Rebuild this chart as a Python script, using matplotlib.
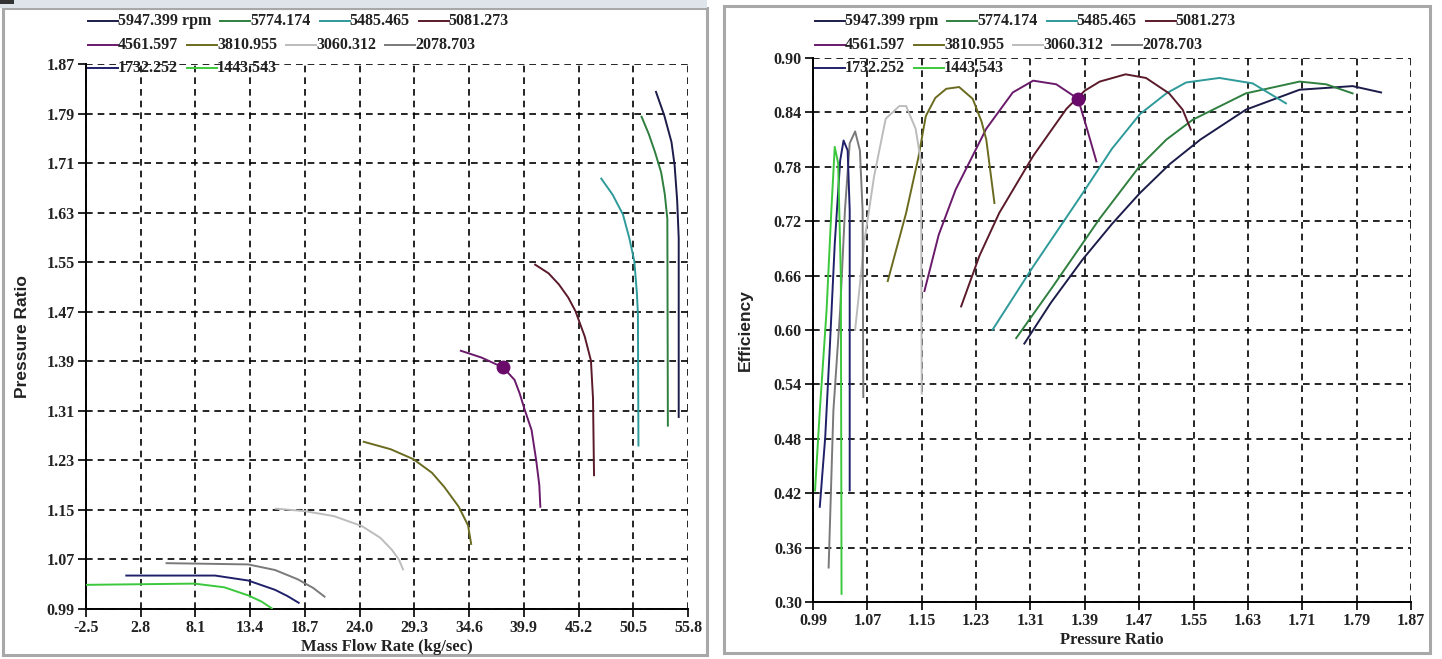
import matplotlib
matplotlib.use("Agg")
import matplotlib.pyplot as plt
from matplotlib.lines import Line2D
from matplotlib.patches import Rectangle

# ---------------- data ----------------
speeds = ["5947.399 rpm", "5774.174", "5485.465", "5081.273",
          "4561.597", "3810.955", "3060.312", "2078.703",
          "1732.252", "1443.543"]

flow_ticks = [-2.5, 2.8, 8.1, 13.4, 18.7, 24.0, 29.3, 34.6, 39.9, 45.2, 50.5, 55.8]
pr_ticks = [0.99, 1.07, 1.15, 1.23, 1.31, 1.39, 1.47, 1.55, 1.63, 1.71, 1.79, 1.87]
eff_ticks = [0.30, 0.36, 0.42, 0.48, 0.54, 0.60, 0.66, 0.72, 0.78, 0.84, 0.90]

# speed lines: mass flow (kg/s) vs pressure ratio
flow_5947 = [52.7, 53.5, 54.2, 54.5, 54.75, 54.9, 54.9]
pr_5947 = [1.825, 1.787, 1.744, 1.707, 1.650, 1.589, 1.300]
flow_5774 = [51.3, 52.0, 52.6, 53.2, 53.55, 53.8, 53.85]
pr_5774 = [1.785, 1.757, 1.728, 1.695, 1.660, 1.620, 1.286]
flow_5485 = [47.4, 48.5, 49.5, 50.1, 50.6, 50.85, 50.95, 51.0]
pr_5485 = [1.685, 1.659, 1.627, 1.590, 1.552, 1.500, 1.466, 1.254]
flow_5081 = [41.0, 42.3, 43.3, 44.2, 44.9, 45.8, 46.4, 46.6, 46.7]
pr_5081 = [1.546, 1.532, 1.514, 1.493, 1.471, 1.430, 1.391, 1.330, 1.206]
flow_4561 = [33.8, 35.8, 37.9, 39.0, 39.5, 40.0, 40.65, 41.1, 41.4, 41.5]
pr_4561 = [1.407, 1.396, 1.380, 1.360, 1.338, 1.311, 1.279, 1.230, 1.190, 1.155]
flow_3810 = [24.4, 27.0, 29.2, 31.0, 32.2, 33.6, 34.5, 34.8]
pr_3810 = [1.260, 1.248, 1.232, 1.210, 1.187, 1.155, 1.125, 1.095]
flow_3060 = [15.9, 18.7, 21.5, 24.2, 26.0, 27.1, 27.8, 28.2]
pr_3060 = [1.152, 1.148, 1.140, 1.124, 1.105, 1.086, 1.070, 1.054]
flow_2078 = [5.3, 13.2, 15.8, 18.0, 19.5, 20.6]
pr_2078 = [1.064, 1.062, 1.053, 1.038, 1.024, 1.010]
flow_1732 = [1.4, 10.0, 13.2, 15.8, 17.0, 18.1]
pr_1732 = [1.044, 1.044, 1.036, 1.021, 1.011, 1.000]
flow_1443 = [-2.5, 8.0, 10.9, 13.2, 14.5, 15.5]
pr_1443 = [1.029, 1.031, 1.025, 1.012, 1.002, 0.991]

# speed lines: pressure ratio vs efficiency
epr_5947 = [1.301, 1.340, 1.387, 1.430, 1.471, 1.515, 1.560, 1.627, 1.706, 1.784, 1.826]
eff_5947 = [0.585, 0.630, 0.678, 0.717, 0.751, 0.783, 0.810, 0.843, 0.865, 0.869, 0.862]
epr_5774 = [1.289, 1.343, 1.412, 1.470, 1.510, 1.549, 1.627, 1.706, 1.745, 1.784]
eff_5774 = [0.591, 0.648, 0.723, 0.780, 0.810, 0.832, 0.861, 0.874, 0.871, 0.861]
epr_5485 = [1.254, 1.314, 1.387, 1.430, 1.471, 1.510, 1.539, 1.588, 1.637, 1.686]
eff_5485 = [0.600, 0.670, 0.751, 0.800, 0.838, 0.861, 0.873, 0.878, 0.872, 0.850]
epr_5081 = [1.208, 1.235, 1.264, 1.314, 1.363, 1.390, 1.412, 1.450, 1.480, 1.514, 1.534, 1.546]
eff_5081 = [0.626, 0.682, 0.729, 0.792, 0.844, 0.864, 0.874, 0.882, 0.878, 0.861, 0.843, 0.821]
epr_4561 = [1.154, 1.175, 1.200, 1.245, 1.284, 1.314, 1.348, 1.380, 1.392, 1.407]
eff_4561 = [0.643, 0.705, 0.755, 0.822, 0.862, 0.875, 0.871, 0.855, 0.825, 0.786]
epr_3810 = [1.100, 1.127, 1.145, 1.156, 1.170, 1.186, 1.205, 1.225, 1.238, 1.245, 1.257]
eff_3810 = [0.654, 0.729, 0.790, 0.836, 0.856, 0.866, 0.868, 0.855, 0.830, 0.810, 0.740]
epr_3060 = [1.052, 1.066, 1.080, 1.097, 1.117, 1.127, 1.141, 1.149, 1.150]
eff_3060 = [0.600, 0.700, 0.770, 0.833, 0.847, 0.847, 0.822, 0.785, 0.530]
epr_2078 = [1.013, 1.020, 1.030, 1.037, 1.044, 1.052, 1.059, 1.063, 1.064]
eff_2078 = [0.338, 0.511, 0.622, 0.732, 0.806, 0.819, 0.798, 0.732, 0.526]
epr_1732 = [1.000, 1.008, 1.015, 1.022, 1.030, 1.035, 1.041, 1.044, 1.044]
eff_1732 = [0.405, 0.482, 0.585, 0.695, 0.787, 0.809, 0.798, 0.732, 0.423]
epr_1443 = [0.993, 1.000, 1.010, 1.017, 1.022, 1.027, 1.031, 1.032]
eff_1443 = [0.423, 0.511, 0.622, 0.732, 0.802, 0.784, 0.659, 0.309]

# operating point
op_flow, op_pr, op_eff = 37.9, 1.380, 0.855

# ---------------- style ----------------
colors = ["#1c1c4a", "#2f7f3f", "#2f9a9a", "#5a1a2a", "#6a1a6a",
          "#6b6b20", "#bcbcbc", "#7a7a7a", "#20206a", "#3cc83c"]

left_series = [(flow_5947, pr_5947), (flow_5774, pr_5774), (flow_5485, pr_5485),
               (flow_5081, pr_5081), (flow_4561, pr_4561), (flow_3810, pr_3810),
               (flow_3060, pr_3060), (flow_2078, pr_2078), (flow_1732, pr_1732),
               (flow_1443, pr_1443)]
right_series = [(epr_5947, eff_5947), (epr_5774, eff_5774), (epr_5485, eff_5485),
                (epr_5081, eff_5081), (epr_4561, eff_4561), (epr_3810, eff_3810),
                (epr_3060, eff_3060), (epr_2078, eff_2078), (epr_1732, eff_1732),
                (epr_1443, eff_1443)]

W, H = 1442, 659
fig = plt.figure(figsize=(W / 100, H / 100), dpi=100)
fig.patch.set_facecolor("white")

def px(x, y):
    return x / W, 1 - y / H

# panel frames
for (x0, y0, x1, y1) in [(3, 8, 707, 655), (724, 6, 1430, 653)]:
    fx0, fy1 = px(x0, y0)
    fx1, fy0 = px(x1, y1)
    fig.patches.append(Rectangle((fx0, fy0), fx1 - fx0, fy1 - fy0,
                                 transform=fig.transFigure, facecolor="none",
                                 edgecolor="#a8a8a8", linewidth=2.2, zorder=-1))
# cropped title strip at top-left
fig.patches.append(Rectangle(px(0, 8), 707 / W, 8 / H, transform=fig.transFigure,
                             facecolor="#dfe3ea", edgecolor="none", zorder=-1))
fig.patches.append(Rectangle(px(0, 4), 14 / W, 4 / H, transform=fig.transFigure,
                             facecolor="#333333", edgecolor="none", zorder=-1))

def make_axes(rect, xt, yt, xlabel, ylabel, xfmt, ylabelpad):
    ax = fig.add_axes(rect)
    ax.set_zorder(1)
    ax.set_xlim(xt[0], xt[-1])
    ax.set_ylim(yt[0], yt[-1])
    ax.set_xticks(xt)
    ax.set_yticks(yt)
    ax.set_xticklabels([xfmt.format(v) for v in xt])
    ax.set_yticklabels([f"{v:.2f}" for v in yt])
    for lab in ax.get_xticklabels() + ax.get_yticklabels():
        lab.set_fontfamily("Liberation Serif")
        lab.set_fontweight("bold")
        lab.set_fontsize(11.5)
        lab.set_color("#222222")
    ax.tick_params(direction="out", length=6, width=1.2, color="black", pad=2)
    for s in ["top", "right"]:
        ax.spines[s].set_visible(False)
    for s in ["left", "bottom"]:
        ax.spines[s].set_linewidth(1.4)
        ax.spines[s].set_color("black")
    ax.grid(True, color="black", linestyle=(0, (4, 3)), linewidth=1.2)
    ax.set_axisbelow(True)
    ax.patch.set_alpha(0)
    ax.set_xlabel(xlabel, fontfamily="Liberation Serif", fontweight="bold",
                  fontsize=12, labelpad=2, color="#222222")
    ax.set_ylabel(ylabel, fontfamily="Liberation Sans", fontweight="bold",
                  fontsize=12.5, labelpad=ylabelpad, color="#222222")
    return ax

axL = make_axes([86 / W, 1 - 609 / H, 602 / W, 545 / H], flow_ticks, pr_ticks,
                "Mass Flow Rate (kg/sec)", "Pressure Ratio", "{:.1f}", 12)
axR = make_axes([813 / W, 1 - 602 / H, 598 / W, 544 / H], pr_ticks, eff_ticks,
                "Pressure Ratio", "Efficiency", "{:.2f}", 15)

for (xs, ys), c in zip(left_series, colors):
    axL.plot(xs, ys, color=c, linewidth=1.4, solid_joinstyle="round", zorder=3)
for (xs, ys), c in zip(right_series, colors):
    axR.plot(xs, ys, color=c, linewidth=1.4, solid_joinstyle="round", zorder=3)

axL.plot([op_flow], [op_pr], "o", color="#6a0a6a", markersize=9, zorder=5)
axR.plot([op_pr], [op_eff], "o", color="#6a0a6a", markersize=9, zorder=5)

# ---------------- legends (flow layout above each plot) ----------------
fig.canvas.draw()
renderer = fig.canvas.get_renderer()
rows = [[0, 1, 2, 3], [4, 5, 6, 7], [8, 9]]
row_y = [21, 45, 68]
line_len = 30
gap = 9

def draw_legend(x_start):
    for r, idxs in enumerate(rows):
        x = x_start
        y = row_y[r]
        for i in idxs:
            fx0, fy = px(x, y)
            fx1, _ = px(x + line_len, y)
            fig.add_artist(Line2D([fx0, fx1], [fy, fy], transform=fig.transFigure,
                                  color=colors[i], linewidth=1.4, zorder=10))
            t = fig.text(fx1, fy, speeds[i], transform=fig.transFigure,
                         fontfamily="Liberation Serif", fontweight="bold",
                         fontsize=11.5, color="#222222", va="center", ha="left",
                         zorder=10)
            w = t.get_window_extent(renderer).width
            x = x + line_len + w + gap

draw_legend(88)
draw_legend(815)

fig.savefig("out.png", dpi=100)
